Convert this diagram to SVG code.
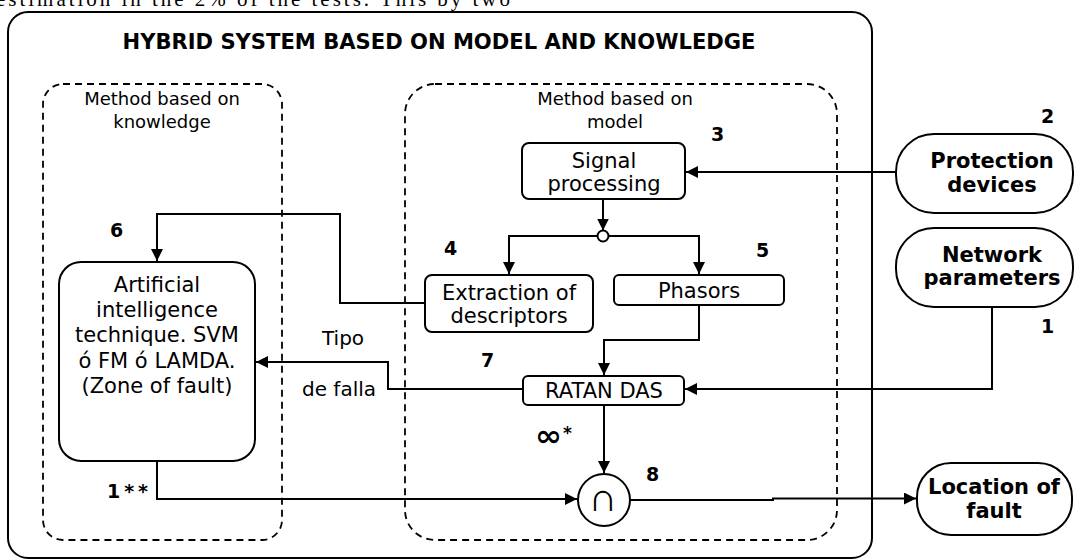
<svg xmlns="http://www.w3.org/2000/svg" width="1077" height="560" viewBox="0 0 1077 560">
  <defs>
    <marker id="arrow" viewBox="0 0 12 12" markerWidth="12" markerHeight="12" refX="12" refY="6" orient="auto" markerUnits="userSpaceOnUse">
      <path d="M0,0 L12,6 L0,12 z" fill="#000"/>
    </marker>
    <style>
      .box { fill: #fff; stroke: #000; stroke-width: 2; }
      .frame { fill: none; stroke: #000; stroke-width: 2; }
      .dash { fill: none; stroke: #000; stroke-width: 1.8; stroke-dasharray: 7 5; }
      .wire { fill: none; stroke: #000; stroke-width: 2; }
      .arr { marker-end: url(#arrow); }
      text { font-family: "DejaVu Sans", Verdana, sans-serif; fill: #000; }
      .lbl { font-size: 21px; text-anchor: middle; }
      .grp { font-size: 18px; text-anchor: middle; }
      .bold { font-weight: bold; font-size: 21px; text-anchor: middle; }
      .num { font-weight: bold; font-size: 19px; }
      .body { font-family: "Liberation Serif", "Times New Roman", serif; font-size: 21px; }
    </style>
  </defs>

  <!-- running text line above the figure -->
  <text class="body" x="-4" y="6" textLength="514" lengthAdjust="spacing">estimation in the 2% of the tests. This by two</text>

  <!-- outer frame -->
  <g id="system">
    <rect class="frame" x="8" y="12" width="864" height="546" rx="20"/>
    <text x="439" y="49" font-size="21" font-weight="bold" text-anchor="middle" textLength="633" lengthAdjust="spacingAndGlyphs">HYBRID SYSTEM BASED ON MODEL AND KNOWLEDGE</text>
  </g>

  <!-- method groups -->
  <g id="knowledge-method">
    <rect class="dash" x="43" y="84" width="239" height="456" rx="20"/>
    <text class="grp" x="162" y="105">Method based on</text>
    <text class="grp" x="162" y="128">knowledge</text>
  </g>
  <g id="model-method">
    <rect class="dash" x="405" y="84" width="432" height="456" rx="30"/>
    <text class="grp" x="615" y="105">Method based on</text>
    <text class="grp" x="615" y="128">model</text>
  </g>

  <!-- connectors -->
  <g id="connectors">
    <path class="wire arr" d="M896,172 H686"/>
    <path class="wire arr" d="M603,199 V230.5"/>
    <path class="wire arr" d="M597.5,236 H509 V274"/>
    <path class="wire arr" d="M608.5,236 H699 V274"/>
    <path class="wire arr" d="M425,303 H340 V214 H157 V261"/>
    <path class="wire arr" d="M699,305 V340 H604 V375"/>
    <path class="wire arr" d="M992,307 V389 H685"/>
    <path class="wire arr" d="M523,389 H388 V362 H256"/>
    <path class="wire arr" d="M604,405 V473"/>
    <path class="wire arr" d="M157,461 V499 H577"/>
    <path class="wire arr" d="M630,500 H773 V498.5 H916"/>
  </g>

  <!-- nodes -->
  <g id="signal-processing">
    <rect class="box" x="522" y="143" width="163" height="56" rx="7"/>
    <text class="lbl" x="604" y="168">Signal</text>
    <text class="lbl" x="604" y="191">processing</text>
  </g>
  <g id="junction">
    <circle class="box" cx="603" cy="236" r="5.5" stroke-width="1.8"/>
  </g>
  <g id="extraction">
    <rect class="box" x="425" y="275" width="168" height="57" rx="7"/>
    <text class="lbl" x="509" y="300">Extraction of</text>
    <text class="lbl" x="509" y="323">descriptors</text>
  </g>
  <g id="phasors">
    <rect class="box" x="614" y="275" width="170" height="30" rx="5"/>
    <text class="lbl" x="699" y="298">Phasors</text>
  </g>
  <g id="ratan-das">
    <rect class="box" x="523" y="376" width="161" height="29" rx="5"/>
    <text class="lbl" x="604" y="398">RATAN DAS</text>
  </g>
  <g id="ai-technique">
    <rect class="box" x="59" y="262" width="196" height="199" rx="22"/>
    <text class="lbl" x="157" y="292">Artificial</text>
    <text class="lbl" x="157" y="317">intelligence</text>
    <text class="lbl" x="157" y="342">technique. SVM</text>
    <text class="lbl" x="157" y="368">ó FM ó LAMDA.</text>
    <text class="lbl" x="157" y="393">(Zone of fault)</text>
  </g>
  <g id="intersection">
    <circle class="box" cx="604" cy="500" r="26"/>
    <text x="603" y="511" font-size="40" font-weight="200" text-anchor="middle">∩</text>
  </g>
  <g id="protection-devices">
    <rect class="box" x="896" y="134" width="177" height="79" rx="38"/>
    <text class="bold" x="992" y="168">Protection</text>
    <text class="bold" x="992" y="192">devices</text>
  </g>
  <g id="network-parameters">
    <rect class="box" x="896" y="228" width="177" height="79" rx="38"/>
    <text class="bold" x="992" y="262">Network</text>
    <text class="bold" x="992" y="285">parameters</text>
  </g>
  <g id="location-of-fault">
    <rect class="box" x="917" y="463" width="155" height="72" rx="34"/>
    <text class="bold" x="994" y="494">Location of</text>
    <text class="bold" x="994" y="518">fault</text>
  </g>

  <!-- connector labels and step numbers -->
  <g id="labels">
    <text x="322" y="345" font-size="20">Tipo</text>
    <text x="302" y="396" font-size="20">de falla</text>
    <text class="num" x="110" y="237">6</text>
    <text class="num" x="1041" y="123">2</text>
    <text class="num" x="711" y="141">3</text>
    <text class="num" x="444" y="255">4</text>
    <text class="num" x="756" y="257">5</text>
    <text class="num" x="1041" y="333">1</text>
    <text class="num" x="481" y="367">7</text>
    <text class="num" x="646" y="481">8</text>
    <text class="num" x="107" y="498" textLength="41" lengthAdjust="spacing">1**</text>
    <text x="535" y="446" font-size="30" font-weight="bold" textLength="27" lengthAdjust="spacingAndGlyphs">∞</text>
    <text x="563" y="439" font-size="17" font-weight="bold">*</text>
  </g>
</svg>
